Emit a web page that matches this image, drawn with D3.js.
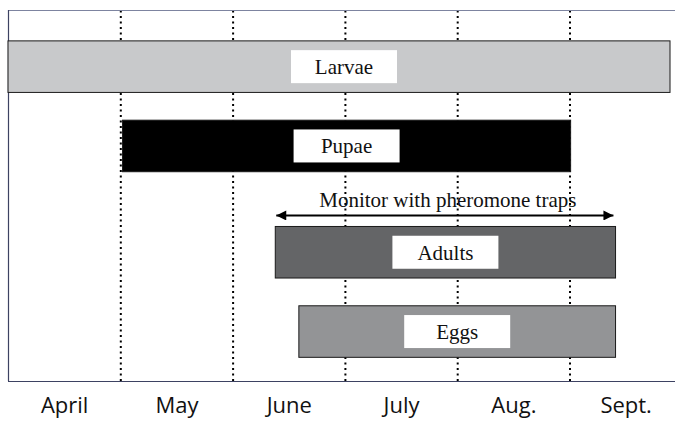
<!DOCTYPE html>
<html lang="en">
<head>
    <meta charset="UTF-8">
    <script src="https://d3js.org/d3.v7.min.js"></script>
    <title>Life stages by month</title>
    <style>
        body { margin: 0; background: #fff; }
        .grid line { stroke: #000; stroke-width: 2px; stroke-dasharray: 2,3.5; }
        .grid path { display: none; }
        .months path, .months line { display: none; }
        .months text { font-family: "Open Sans", sans-serif; font-size: 22px; fill: #111; }
        .label { font-family: "Liberation Serif", "Times New Roman", serif; font-size: 21px; fill: #111; }
    </style>
</head>
<body>
<div id="chart"></div>
<script>
    // months, x in month units: 0 = start of April
    const months = ["April", "May", "June", "July", "Aug.", "Sept."];
    const boundaries = [1, 2, 3, 4, 5];

    const stages = ["Larvae", "Pupae", "Adults", "Eggs"];
    const stageStart = [0, 1.02, 2.38, 2.59];
    const stageEnd = [5.895, 5.01, 5.41, 5.41];
    const stageFill = ["#c8c9cb", "#000000", "#646567", "#939496"];

    const monitorText = "Monitor with pheromone traps";
    const monitorSpan = [2.38, 5.40];

    const W = 675, H = 433;
    const mLeft = 8, mTop = 10, mBottom = 381;

    const svg = d3.select("#chart").append("svg")
        .attr("width", W)
        .attr("height", H);

    const x = d3.scaleLinear().domain([0, 6]).range([mLeft, mLeft + 6 * 112.3]);

    // rows, with extra room for the monitor arrow above Adults
    const y = d3.scaleBand().domain(stages).range([27, 344.2])
        .paddingInner(0.35).paddingOuter(0.175);
    const gap = 27;
    const rowY = s => y(s) + (stages.indexOf(s) >= 2 ? gap : 0);

    // dotted month boundaries
    svg.append("g")
        .attr("class", "grid")
        .attr("transform", `translate(0,${mBottom})`)
        .call(d3.axisBottom(x).tickValues(boundaries).tickSize(-(mBottom - mTop)).tickFormat(""));

    // frame (no right edge)
    const frame = svg.append("g").attr("stroke", "#3d4262").attr("stroke-width", 1.2);
    frame.append("line").attr("x1", mLeft).attr("x2", W).attr("y1", mTop + 0.5).attr("y2", mTop + 0.5).attr("stroke", "#7d84a0");
    frame.append("line").attr("x1", mLeft + 0.5).attr("x2", mLeft + 0.5).attr("y1", mTop).attr("y2", mBottom);
    frame.append("line").attr("x1", mLeft).attr("x2", W).attr("y1", mBottom + 0.5).attr("y2", mBottom + 0.5);

    // bars
    const rows = stages.map((s, i) => ({stage: s, start: stageStart[i], end: stageEnd[i], fill: stageFill[i]}));

    svg.selectAll(".bar")
        .data(rows)
        .enter()
        .append("rect")
        .attr("class", "bar")
        .attr("x", d => x(d.start))
        .attr("y", d => rowY(d.stage))
        .attr("width", d => x(d.end) - x(d.start))
        .attr("height", y.bandwidth())
        .attr("fill", d => d.fill)
        .attr("stroke", "#1a1a1a")
        .attr("stroke-width", 1);

    // white label boxes
    const boxW = 106, boxH = 33;
    const lab = svg.selectAll(".lab")
        .data(rows)
        .enter()
        .append("g")
        .attr("class", "lab")
        .attr("transform", d => `translate(${(x(d.start) + x(d.end)) / 2 + (d.stage === "Larvae" ? 5 : 0)},${rowY(d.stage) + y.bandwidth() / 2})`);

    lab.append("rect")
        .attr("x", -boxW / 2)
        .attr("y", -boxH / 2)
        .attr("width", boxW)
        .attr("height", boxH)
        .attr("fill", "#fff");

    lab.append("text")
        .attr("class", "label")
        .attr("text-anchor", "middle")
        .attr("dy", "0.35em")
        .text(d => d.stage);

    // monitor arrow
    svg.append("defs").append("marker")
        .attr("id", "head")
        .attr("viewBox", "0 0 10 10")
        .attr("refX", 10).attr("refY", 5)
        .attr("markerWidth", 7.5).attr("markerHeight", 5)
        .attr("markerUnits", "strokeWidth")
        .attr("orient", "auto-start-reverse")
        .append("path")
        .attr("d", "M0,0 L10,5 L0,10 z")
        .attr("fill", "#000");

    const arrowY = rowY("Adults") - 11;
    svg.append("line")
        .attr("x1", x(monitorSpan[0]) + 1)
        .attr("x2", x(monitorSpan[1]) - 1)
        .attr("y1", arrowY).attr("y2", arrowY)
        .attr("stroke", "#000")
        .attr("stroke-width", 2)
        .attr("marker-start", "url(#head)")
        .attr("marker-end", "url(#head)");

    svg.append("text")
        .attr("class", "label")
        .attr("x", (x(monitorSpan[0]) + x(monitorSpan[1])) / 2 + 3)
        .attr("y", arrowY - 8)
        .attr("text-anchor", "middle")
        .text(monitorText);

    // month labels
    svg.append("g")
        .attr("class", "months")
        .attr("transform", `translate(0,${mBottom})`)
        .call(d3.axisBottom(x).tickValues(months.map((m, i) => i + 0.5))
            .tickFormat((d, i) => months[i]).tickSize(0).tickPadding(16));
</script>
</body>
</html>
